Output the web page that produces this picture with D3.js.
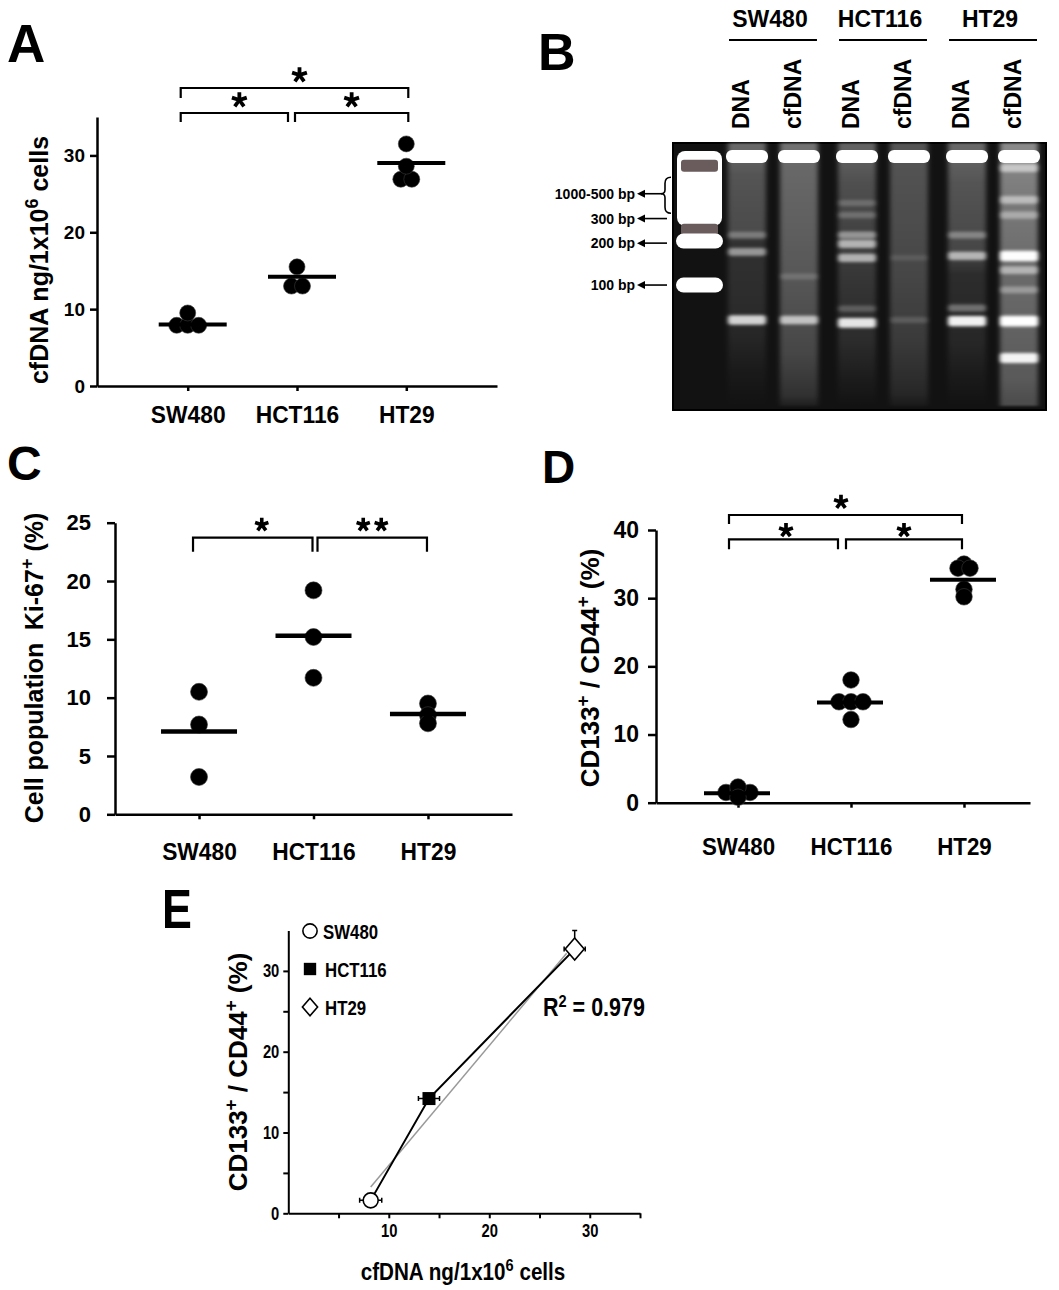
<!DOCTYPE html>
<html><head><meta charset="utf-8">
<script src="https://cdn.jsdelivr.net/npm/d3@7"></script>
<style>
html,body{margin:0;padding:0;background:#fff;}
svg{display:block;}
</style></head><body>
<svg id="fig" width="1059" height="1290"></svg>
<script>
// ---------------- DATA ----------------
const cellLines = ["SW480", "HCT116", "HT29"];

// Panel A: cfDNA ng / 1x10^6 cells
const cfdnaSW480 = [7.9, 7.9, 7.9, 9.5];
const cfdnaHCT116 = [13.0, 13.0, 15.5];
const cfdnaHT29 = [26.9, 26.9, 28.6, 31.5];
const cfdnaMean = [8.0, 14.2, 29.0];
const ticksA = [0, 10, 20, 30];
const compA = [
  {a: "SW480", b: "HCT116", level: 0, sig: "*"},
  {a: "HCT116", b: "HT29", level: 0, sig: "*"},
  {a: "SW480", b: "HT29", level: 1, sig: "*"}
];

// Panel C: Ki-67+ cell population (%)
const ki67SW480 = [10.5, 7.7, 3.2];
const ki67HCT116 = [19.2, 15.2, 11.7];
const ki67HT29 = [9.5, 8.5, 7.8];
const ki67Mean = [7.1, 15.3, 8.6];
const ticksC = [0, 5, 10, 15, 20, 25];
const compC = [
  {a: "SW480", b: "HCT116", level: 0, sig: "*"},
  {a: "HCT116", b: "HT29", level: 0, sig: "**"}
];

// Panel D: CD133+/CD44+ (%)
const cdSW480 = [1.5, 1.5, 1.5, 2.3, 0.8];
const cdHCT116 = [18.0, 14.8, 14.8, 14.8, 12.2];
const cdHT29 = [35.0, 34.4, 34.4, 31.3, 30.2];
const cdMean = [1.4, 14.7, 32.7];
const ticksD = [0, 10, 20, 30, 40];
const compD = [
  {a: "SW480", b: "HCT116", level: 0, sig: "*"},
  {a: "HCT116", b: "HT29", level: 0, sig: "*"},
  {a: "SW480", b: "HT29", level: 1, sig: "*"}
];

// Panel E: correlation
const eCfdna = [8.2, 14.0, 28.5];
const eCfdnaErr = [1.1, 1.05, 1.05];
const eCd = [1.6, 14.2, 32.7];
const eCdErr = [0.4, 0.6, 2.3];
const ticksEMajor = [10, 20, 30];
const ticksEMinorX = [5, 10, 15, 20, 25, 30, 35];
const ticksEMinorY = [0, 5, 10, 15, 20, 25, 30];
const eMarkers = ["circle", "square", "diamond"];
const r2Text = "0.979";

// Panel B: gel (migration as fraction of gel length, 0 = wells)
const laneTypes = ["DNA", "cfDNA"];
const markerLabels = ["1000-500 bp", "300 bp", "200 bp", "100 bp"];
const markerRf = [0.19, 0.283, 0.375, 0.532];
const braceRf = [0.128, 0.263];
const ladderBlockRf = [0.03, 0.31];
const ladderBands = [
  {rf: 0.085, level: 0.42, kind: "dark"},
  {rf: 0.325, level: 0.35, kind: "dark"},
  {rf: 0.367, level: 1.0, kind: "bright"},
  {rf: 0.532, level: 1.0, kind: "bright"}
];
const gelSmears = [
  {lane: "SW480|DNA", stops: [[0.03, 0.36], [0.12, 0.28], [0.33, 0.24], [0.38, 0.13], [0.6, 0.11], [0.72, 0.09], [0.88, 0.03], [1, 0]]},
  {lane: "SW480|cfDNA", stops: [[0.03, 0.4], [0.1, 0.36], [0.35, 0.32], [0.55, 0.28], [0.8, 0.22], [0.96, 0.13], [1, 0.05]]},
  {lane: "HCT116|DNA", stops: [[0.03, 0.34], [0.15, 0.26], [0.45, 0.17], [0.6, 0.13], [0.75, 0.11], [0.9, 0.04], [1, 0]]},
  {lane: "HCT116|cfDNA", stops: [[0.03, 0.28], [0.2, 0.26], [0.5, 0.22], [0.75, 0.17], [0.95, 0.09], [1, 0.03]]},
  {lane: "HT29|DNA", stops: [[0.03, 0.36], [0.15, 0.28], [0.42, 0.22], [0.5, 0.11], [0.75, 0.09], [0.9, 0.03], [1, 0]]},
  {lane: "HT29|cfDNA", stops: [[0.03, 0.5], [0.2, 0.44], [0.45, 0.38], [0.7, 0.34], [0.9, 0.3], [1, 0.24]]}
];
const gelBands = [
  {lane: "SW480|DNA", rf: 0.345, level: 0.28},
  {lane: "SW480|DNA", rf: 0.408, level: 0.45},
  {lane: "SW480|DNA", rf: 0.663, level: 0.72},
  {lane: "SW480|cfDNA", rf: 0.5, level: 0.15},
  {lane: "SW480|cfDNA", rf: 0.663, level: 0.6},
  {lane: "HCT116|DNA", rf: 0.225, level: 0.18},
  {lane: "HCT116|DNA", rf: 0.27, level: 0.2},
  {lane: "HCT116|DNA", rf: 0.345, level: 0.4},
  {lane: "HCT116|DNA", rf: 0.378, level: 0.55},
  {lane: "HCT116|DNA", rf: 0.43, level: 0.55},
  {lane: "HCT116|DNA", rf: 0.62, level: 0.2},
  {lane: "HCT116|DNA", rf: 0.674, level: 0.8},
  {lane: "HCT116|cfDNA", rf: 0.43, level: 0.1},
  {lane: "HCT116|cfDNA", rf: 0.663, level: 0.14},
  {lane: "HT29|DNA", rf: 0.345, level: 0.3},
  {lane: "HT29|DNA", rf: 0.423, level: 0.55},
  {lane: "HT29|DNA", rf: 0.618, level: 0.3},
  {lane: "HT29|DNA", rf: 0.667, level: 0.85},
  {lane: "HT29|cfDNA", rf: 0.094, level: 0.5},
  {lane: "HT29|cfDNA", rf: 0.213, level: 0.45},
  {lane: "HT29|cfDNA", rf: 0.27, level: 0.35},
  {lane: "HT29|cfDNA", rf: 0.423, level: 0.9},
  {lane: "HT29|cfDNA", rf: 0.476, level: 0.45},
  {lane: "HT29|cfDNA", rf: 0.55, level: 0.3},
  {lane: "HT29|cfDNA", rf: 0.667, level: 0.95},
  {lane: "HT29|cfDNA", rf: 0.805, level: 0.85}
];

// ---------------- DRAWING ----------------
const FONT = '"Liberation Sans", Arial, Helvetica, sans-serif';
const svg = d3.select("#fig").attr("font-family", FONT).attr("font-weight", "bold");

function panelLetter(txt, x, y, fs, sx) {
  svg.append("text").attr("transform", `translate(${x},${y}) scale(${sx || 1},1)`)
    .attr("font-size", fs).attr("font-weight", "bold").attr("fill", "#000").text(txt);
}

function rotTitle(x, y, parts, fs) {
  const t = svg.append("text").attr("transform", `translate(${x},${y}) rotate(-90)`)
    .attr("text-anchor", "middle").attr("font-size", fs).attr("fill", "#000");
  parts.forEach(p => {
    const ts = t.append("tspan").text(p.t);
    if (p.sup) ts.attr("baseline-shift", "super").attr("font-size", fs * 0.72);
  });
  return t;
}

function condense(sel, k) {
  sel.each(function () {
    const w = this.getComputedTextLength();
    if (w > 0) { this.setAttribute("textLength", w * k); this.setAttribute("lengthAdjust", "spacingAndGlyphs"); }
  });
}

function styleAxis(g, fs, sw) {
  g.attr("font-family", FONT).attr("font-size", fs).attr("font-weight", "bold");
  g.select(".domain").attr("stroke", "#000").attr("stroke-width", sw);
  g.selectAll(".tick line").attr("stroke", "#000").attr("stroke-width", sw);
  g.selectAll(".tick text").attr("fill", "#000");
}

function drawStar(g, cx, cy, r, sw) {
  const d = d3.range(5).map(i => {
    const a = -Math.PI / 2 + i * 2 * Math.PI / 5;
    return `M${cx},${cy}L${cx + r * Math.cos(a)},${cy + r * Math.sin(a)}`;
  }).join("");
  g.append("path").attr("d", d).attr("stroke", "#000").attr("stroke-width", sw).attr("fill", "none");
}

function rowLayout(values, y, spacing, thresh) {
  const rows = [];
  const pts = values.map(v => ({v, py: y(v)}));
  pts.forEach(p => {
    let row = rows.find(r => Math.abs(r.py - p.py) < thresh);
    if (!row) { row = {py: p.py, items: []}; rows.push(row); }
    row.items.push(p);
  });
  rows.forEach(r => r.items.forEach((p, i) => { p.dx = (i - (r.items.length - 1) / 2) * spacing; }));
  return pts;
}

function dotPlot(cfg) {
  const g = svg.append("g");
  const x = d3.scalePoint().domain(cellLines).range(cfg.xRange).padding(cfg.pad).align(cfg.align);
  const y = d3.scaleLinear().domain(cfg.yDomain).range(cfg.yRange);

  const yAx = g.append("g").attr("transform", `translate(${cfg.xRange[0]},0)`)
    .call(d3.axisLeft(y).tickValues(cfg.ticks).tickSize(cfg.yTickSize).tickSizeOuter(0).tickPadding(cfg.yTickPad));
  styleAxis(yAx, cfg.tickFs, 2.5);
  const xAx = g.append("g").attr("transform", `translate(0,${cfg.yRange[0]})`)
    .call(d3.axisBottom(x).tickSize(5).tickSizeOuter(0).tickPadding(cfg.xLabPad));
  styleAxis(xAx, cfg.labFs, 2.5);
  condense(xAx.selectAll(".tick text"), 0.93);

  // dots
  cfg.groups.forEach((vals, i) => {
    const pts = rowLayout(vals, y, cfg.spacing, 3);
    g.append("g").selectAll("circle").data(pts).join("circle")
      .attr("cx", p => x(cellLines[i]) + p.dx)
      .attr("cy", p => p.py)
      .attr("r", cfg.r)
      .attr("fill", "#000").attr("stroke", "#3a3a3a").attr("stroke-width", 0.6);
  });
  // mean lines
  g.append("g").selectAll("line").data(cfg.means).join("line")
    .attr("x1", (d, i) => x(cellLines[i]) + cfg.meanOff - cfg.meanHalf)
    .attr("x2", (d, i) => x(cellLines[i]) + cfg.meanOff + cfg.meanHalf)
    .attr("y1", d => y(d)).attr("y2", d => y(d))
    .attr("stroke", "#000").attr("stroke-width", cfg.meanW);

  // significance brackets
  const mid = cellLines[1];
  cfg.comps.forEach((c, ci) => {
    const ly = cfg.levelY[c.level];
    const x1 = c.a === mid ? x(mid) + cfg.midShift + cfg.gap : x(c.a) + cfg.eL;
    const x2 = c.b === mid ? x(mid) + cfg.midShift - cfg.gap : x(c.b) + cfg.eR;
    const drop = cfg.drop[c.level];
    g.append("path").attr("d", `M${x1},${ly + drop}V${ly}H${x2}V${ly + drop}`)
      .attr("fill", "none").attr("stroke", "#000").attr("stroke-width", 2.2);
    const n = c.sig.length;
    const sc = (x1 + x2) / 2 + cfg.starDx[ci];
    for (let k = 0; k < n; k++) {
      drawStar(g, sc + (k - (n - 1) / 2) * cfg.starGap, ly - cfg.starUp[c.level], cfg.starR, cfg.starW);
    }
  });
  return {x, y};
}

// ----- Panel A -----
panelLetter("A", 7, 62, 53);
dotPlot({
  groups: [cfdnaSW480, cfdnaHCT116, cfdnaHT29], means: cfdnaMean, ticks: ticksA,
  xRange: [97, 497], pad: 0.83, align: 0.5, yDomain: [0, 35], yRange: [386, 117],
  yTickSize: 7, yTickPad: 5, tickFs: 19, labFs: 24.5, xLabPad: 15,
  r: 8, spacing: 11, meanOff: 5, meanHalf: 34, meanW: 4,
  comps: compA, levelY: [113, 88], drop: [9, 10], starUp: [13, 13],
  starR: 7.8, starW: 3.8, starGap: 18, starDx: [5, 0, 5],
  midShift: -5.5, gap: 3.5, eL: -7, eR: 2
});
rotTitle(48, 260, [{t: "cfDNA ng/1x10"}, {t: "6", sup: true}, {t: " cells"}], 25);

// ----- Panel C -----
panelLetter("C", 7, 480, 48);
dotPlot({
  groups: [ki67SW480, ki67HCT116, ki67HT29], means: ki67Mean, ticks: ticksC,
  xRange: [115, 512], pad: 0.734, align: 0.5, yDomain: [0, 25], yRange: [814.3, 522.7],
  yTickSize: 8, yTickPad: 16, tickFs: 22, labFs: 24.5, xLabPad: 23,
  r: 8.5, spacing: 11, meanOff: 0, meanHalf: 38, meanW: 4.5,
  comps: compC, levelY: [537.7], drop: [14], starUp: [13],
  starR: 7, starW: 3.6, starGap: 18, starDx: [9, 0],
  midShift: 1.5, gap: 2.5, eL: -6, eR: -1
});
rotTitle(43, 668, [{t: "Cell population\u2002Ki-67"}, {t: "+", sup: true}, {t: " (%)"}], 25);

// ----- Panel D -----
panelLetter("D", 542, 483, 46);
dotPlot({
  groups: [cdSW480, cdHCT116, cdHT29], means: cdMean, ticks: ticksD,
  xRange: [656, 1030], pad: 0.655, align: 0.554, yDomain: [0, 40], yRange: [802.7, 530],
  yTickSize: 8, yTickPad: 9, tickFs: 23, labFs: 24, xLabPad: 30,
  r: 8.3, spacing: 12, meanOff: -1, meanHalf: 33, meanW: 4,
  comps: compD, levelY: [539.3, 515], drop: [10, 9], starUp: [9, 13],
  starR: 7.3, starW: 3.7, starGap: 18, starDx: [2.5, 0, -4.5],
  midShift: -9, gap: 4, eL: -9, eR: -2
});
rotTitle(599, 668, [{t: "CD133"}, {t: "+", sup: true}, {t: " / CD44"}, {t: "+", sup: true}, {t: " (%)"}], 26);

// ----- Panel B (gel) -----
panelLetter("B", 538, 70, 52);
(function () {
  const gx0 = 673, gx1 = 1046, gy0 = 143, gy1 = 410;
  const rfY = d3.scaleLinear().domain([0, 1]).range([gy0, gy1]);
  const groupX = d3.scaleBand().domain(cellLines).range([727, 1039]).paddingInner(0.164);
  const typeX = d3.scaleBand().domain(laneTypes).range([0, groupX.bandwidth()]).paddingInner(0.23);
  const ladderLane = {x: 677, w: 45};
  function lane(id) {
    const [gname, t] = id.split("|");
    return {x: groupX(gname) + typeX(t), w: typeX.bandwidth()};
  }
  const lanes = [];
  cellLines.forEach(c => laneTypes.forEach(t => lanes.push(c + "|" + t)));

  const defs = svg.append("defs");
  defs.append("filter").attr("id", "blurBand").attr("x", "-20%").attr("y", "-150%").attr("width", "140%").attr("height", "400%")
    .append("feGaussianBlur").attr("stdDeviation", "2.2 1.8");
  defs.append("filter").attr("id", "blurSmear").attr("x", "-20%").attr("y", "-5%").attr("width", "140%").attr("height", "110%")
    .append("feGaussianBlur").attr("stdDeviation", "2.5 1");
  defs.append("filter").attr("id", "blurSoft")
    .append("feGaussianBlur").attr("stdDeviation", "0.7");

  const G = svg.append("g");
  G.append("rect").attr("x", gx0).attr("y", gy0).attr("width", gx1 - gx0).attr("height", gy1 - gy0)
    .attr("fill", "#121212").attr("stroke", "#000").attr("stroke-width", 2);

  // smears
  gelSmears.forEach((s, i) => {
    const gid = "smear" + i;
    const lg = defs.append("linearGradient").attr("id", gid).attr("x1", 0).attr("x2", 0).attr("y1", 0).attr("y2", 1);
    s.stops.forEach(st => lg.append("stop").attr("offset", st[0]).attr("stop-color", "#fff").attr("stop-opacity", st[1]));
    const L = lane(s.lane);
    G.append("rect").attr("x", L.x + 1).attr("width", L.w - 2).attr("y", rfY(0)).attr("height", rfY(1) - rfY(0) - 4)
      .attr("fill", `url(#${gid})`).attr("filter", "url(#blurSmear)");
  });

  // bands
  G.append("g").selectAll("rect").data(gelBands).join("rect")
    .attr("x", d => lane(d.lane).x + 1)
    .attr("width", d => lane(d.lane).w - 2)
    .attr("y", d => rfY(d.rf) - (5 + 6 * d.level) / 2)
    .attr("height", d => 5 + 6 * d.level)
    .attr("rx", 3)
    .attr("fill", "#fff").attr("fill-opacity", d => Math.min(1, d.level * 1.1))
    .attr("filter", "url(#blurBand)");

  // wells
  G.append("g").selectAll("rect").data(lanes).join("rect")
    .attr("x", d => lane(d).x - 1).attr("width", d => lane(d).w + 2)
    .attr("y", rfY(0.026)).attr("height", rfY(0.075) - rfY(0.026))
    .attr("rx", 6).attr("fill", "#fff").attr("filter", "url(#blurSoft)");

  // ladder
  G.append("rect").attr("x", ladderLane.x).attr("width", ladderLane.w)
    .attr("y", rfY(ladderBlockRf[0])).attr("height", rfY(ladderBlockRf[1]) - rfY(ladderBlockRf[0]))
    .attr("rx", 8).attr("fill", "#fff").attr("filter", "url(#blurSoft)");
  G.append("g").selectAll("rect").data(ladderBands).join("rect")
    .attr("x", d => d.kind === "dark" ? ladderLane.x + 4 : ladderLane.x - 1)
    .attr("width", d => d.kind === "dark" ? ladderLane.w - 8 : ladderLane.w + 2)
    .attr("y", d => rfY(d.rf) - (d.kind === "dark" ? 6 : 7.5))
    .attr("height", d => d.kind === "dark" ? 12 : 15)
    .attr("rx", d => d.kind === "dark" ? 3 : 7.5)
    .attr("fill", d => d.kind === "dark" ? "#6a5b5b" : "#fff")
    .attr("filter", "url(#blurSoft)");

  // marker labels and arrows
  markerLabels.forEach((lab, i) => {
    const yy = rfY(markerRf[i]);
    svg.append("text").attr("x", 635).attr("y", yy + 5).attr("text-anchor", "end")
      .attr("font-size", 14).attr("fill", "#000").text(lab);
    const xEnd = i === 0 ? 662 : 667;
    svg.append("line").attr("x1", 642).attr("x2", xEnd).attr("y1", yy).attr("y2", yy)
      .attr("stroke", "#000").attr("stroke-width", 1.6);
    svg.append("path").attr("d", `M637,${yy}L645,${yy - 4}L645,${yy + 4}Z`).attr("fill", "#000");
  });
  // brace
  const bt = rfY(braceRf[0]), bb = rfY(braceRf[1]), bm = rfY(markerRf[0]);
  svg.append("path")
    .attr("d", `M671,${bt} Q665,${bt} 665,${bt + 6} L665,${bm - 4} Q665,${bm} 661,${bm} Q665,${bm} 665,${bm + 4} L665,${bb - 6} Q665,${bb} 671,${bb}`)
    .attr("fill", "none").attr("stroke", "#000").attr("stroke-width", 1.6);

  // group labels
  cellLines.forEach(c => {
    const gx = groupX(c), w = groupX.bandwidth();
    svg.append("text").attr("x", gx + w / 2 - 3).attr("y", 27).attr("text-anchor", "middle")
      .attr("font-size", 23).attr("fill", "#000").text(c);
    svg.append("line").attr("x1", gx + 2).attr("x2", gx + w - 2).attr("y1", 40).attr("y2", 40)
      .attr("stroke", "#000").attr("stroke-width", 2);
  });
  // lane labels
  lanes.forEach(id => {
    const L = lane(id);
    svg.append("text").attr("transform", `translate(${L.x + L.w / 2 - 6},129) rotate(-90)`)
      .attr("dy", "0.36em").attr("font-size", 23).attr("fill", "#000").text(id.split("|")[1]);
  });
})();

// ----- Panel E -----
panelLetter("E", 162, 928, 56, 0.8);
(function () {
  const g = svg.append("g");
  const x = d3.scaleLinear().domain([0, 35]).range([288.3, 640]);
  const y = d3.scaleLinear().domain([0, 35]).range([1213.3, 930.5]);
  const yAx = g.append("g").attr("transform", `translate(${x(0)},0)`)
    .call(d3.axisLeft(y).tickValues(ticksEMinorY).tickSize(5).tickSizeOuter(0).tickPadding(4)
      .tickFormat(d => (d % 10 === 0 ? d : "")));
  styleAxis(yAx, 18, 2);
  condense(yAx.selectAll(".tick text"), 0.82);
  const xAx = g.append("g").attr("transform", `translate(0,${y(0)})`)
    .call(d3.axisBottom(x).tickValues(ticksEMinorX).tickSize(5).tickSizeOuter(0).tickPadding(6)
      .tickFormat(d => (ticksEMajor.includes(d) ? d : "")));
  styleAxis(xAx, 18, 2);
  condense(xAx.selectAll(".tick text"), 0.82);

  // regression line
  const mx = d3.mean(eCfdna), my = d3.mean(eCd);
  const sxy = d3.sum(eCfdna, (v, i) => (v - mx) * (eCd[i] - my));
  const sxx = d3.sum(eCfdna, v => (v - mx) * (v - mx));
  const slope = sxy / sxx, icpt = my - slope * mx;
  const xa = d3.min(eCfdna), xb = d3.max(eCfdna) - 0.8;
  g.append("line").attr("x1", x(xa)).attr("y1", y(icpt + slope * xa))
    .attr("x2", x(xb)).attr("y2", y(icpt + slope * xb))
    .attr("stroke", "#999").attr("stroke-width", 1.5);

  // connecting line
  const pts = eCfdna.map((v, i) => [x(v), y(eCd[i])]);
  g.append("path").attr("d", d3.line()(pts)).attr("fill", "none").attr("stroke", "#000").attr("stroke-width", 2);

  // error bars
  eCfdna.forEach((v, i) => {
    const cy = y(eCd[i]);
    const xl = x(v - eCfdnaErr[i]), xr = x(v + eCfdnaErr[i]);
    g.append("path").attr("d", `M${xl},${cy}H${xr}M${xl},${cy - 2.5}V${cy + 2.5}M${xr},${cy - 2.5}V${cy + 2.5}`)
      .attr("stroke", "#000").attr("stroke-width", 1.5).attr("fill", "none");
    const cx = x(v), yt = y(eCd[i] + eCdErr[i]);
    g.append("path").attr("d", `M${cx},${cy}V${yt}M${cx - 2.5},${yt}H${cx + 2.5}`)
      .attr("stroke", "#000").attr("stroke-width", 1.5).attr("fill", "none");
  });

  function marker(sel, kind, cx, cy, s) {
    if (kind === "circle") sel.append("circle").attr("cx", cx).attr("cy", cy).attr("r", 7.5 * s)
      .attr("fill", "#fff").attr("stroke", "#000").attr("stroke-width", 1.6);
    else if (kind === "square") sel.append("rect").attr("x", cx - 6.5 * s).attr("y", cy - 6.5 * s)
      .attr("width", 13 * s).attr("height", 13 * s).attr("fill", "#000");
    else sel.append("path").attr("d", `M${cx},${cy - 11 * s}L${cx + 9.5 * s},${cy}L${cx},${cy + 11 * s}L${cx - 9.5 * s},${cy}Z`)
      .attr("fill", "#fff").attr("stroke", "#000").attr("stroke-width", 1.6);
  }
  eCfdna.forEach((v, i) => marker(g, eMarkers[i], x(v), y(eCd[i]), 1));

  // legend
  const legY = d3.scalePoint().domain(cellLines).range([931, 1007]);
  const legText = [];
  cellLines.forEach((c, i) => {
    marker(g, eMarkers[i], 310, legY(c), i === 2 ? 0.8 : 0.95);
    legText.push(g.append("text").attr("x", i === 0 ? 323 : 325).attr("y", legY(c) + 7.5)
      .attr("font-size", 20).attr("fill", "#000").text(c).node());
  });
  condense(d3.selectAll(legText), 0.84);

  // R^2
  const rt = g.append("text").attr("transform", "translate(543,1016) scale(0.86,1)")
    .attr("font-size", 25).attr("fill", "#000");
  rt.append("tspan").text("R");
  rt.append("tspan").attr("baseline-shift", "super").attr("font-size", 17).text("2");
  rt.append("tspan").text(" = " + r2Text);

  // axis titles
  const xt = g.append("text").attr("transform", "translate(463,1280) scale(0.86,1)").attr("text-anchor", "middle")
    .attr("font-size", 24).attr("fill", "#000");
  xt.append("tspan").text("cfDNA ng/1x10");
  xt.append("tspan").attr("baseline-shift", "super").attr("font-size", 17).text("6");
  xt.append("tspan").text(" cells");
})();
rotTitle(247, 1072, [{t: "CD133"}, {t: "+", sup: true}, {t: " / CD44"}, {t: "+", sup: true}, {t: " (%)"}], 26);
</script>
</body></html>
